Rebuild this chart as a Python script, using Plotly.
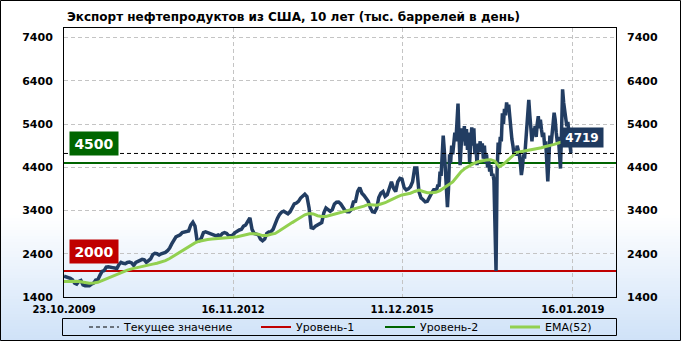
import plotly.graph_objects as go
import pandas as pd

# ---------------- data ----------------
title_text = "Экспорт нефтепродуктов из США, 10 лет (тыс. баррелей в день)"
start_date = "2009-10-23"
x_range = ["2009-10-23", "2019-10-29"]
y_range = [1400, 7620]

# biweekly export values 2009-10 .. 2016-08 (thousand barrels/day)
export_biweekly = [
    1880, 1870, 1860, 1830, 1800, 1720, 1700, 1760, 1780, 1680,
    1660, 1650, 1660, 1700, 1720, 1790, 1800, 1900, 1990, 2010,
    2090, 2100, 2100, 2080, 2070, 2060, 2150, 2200, 2180, 2170,
    2200, 2210, 2190, 2130, 2200, 2230, 2260, 2270, 2260, 2200,
    2240, 2280, 2380, 2410, 2400, 2370, 2400, 2410, 2430, 2470,
    2530, 2627, 2700, 2790, 2815, 2838, 2890, 2905, 2912, 2928,
    3065, 3130, 3040, 2700, 2700, 2760, 2890, 2905, 2890, 2870,
    2838, 2838, 2815, 2838, 2815, 2870, 2890, 2870, 2815, 2815,
    2838, 2890, 2928, 2950, 2965, 3040, 3065, 3170, 3232, 2965,
    2870, 2855, 2838, 2740, 2700, 2740, 2870, 2905, 2910, 2967,
    3120, 3217, 3309, 3362, 3384, 3346, 3325, 3370, 3460, 3551,
    3573, 3612, 3687, 3748, 3778, 3725, 3460, 3005, 2990, 3035,
    3066, 3082, 3120, 3346, 3460, 3422, 3384, 3422, 3551, 3590,
    3597, 3551, 3460, 3400, 3370, 3370, 3422, 3597, 3612, 3840,
    3930, 3800, 3748, 3672, 3612, 3460, 3370, 3360, 3450, 3700,
    3800, 3839, 3725, 3764, 3914, 4066, 3914, 3839, 4066, 4142,
    4127, 3930, 3878, 3900, 3950, 4066, 4384, 4384, 3839, 3690,
    3650, 3600, 3612, 3725, 3800, 3878, 3878,
]

# weekly export values from 2016-08 to the end
export_weekly = [
    3900, 4000, 3950, 4300, 4200, 4700, 5130, 4800, 4300, 4100,
    3480, 3900, 4700, 4500, 4900, 4700, 5000, 5200, 5000, 5700,
    5870, 5100, 4450, 4900, 5300, 5000, 5350, 4900, 5280, 4800,
    5200, 4520, 5000, 5320, 4900, 5300, 4700, 4900, 4450, 4950,
    4800, 5000, 4750, 4950, 4600, 4900, 4500, 4700, 4400, 4550,
    4300, 4450, 4200, 4250, 4100, 3200, 2000, 4300, 4970, 4700,
    5100, 5000, 5650, 5400, 5750, 5600, 5900, 5700, 5850, 5580,
    5200, 5050, 4900, 4700, 4800, 4670, 4900, 4820, 4700, 4500,
    4220, 4400, 4700, 4600, 4970, 5200, 5500, 5960, 5600, 5130,
    5000, 5300, 5150, 5355, 5100, 5400, 5580, 5300, 5500, 5280,
    5100, 5200, 4900, 5000, 4500, 4070, 4600, 5130, 4900, 5300,
    5400, 5660, 5500, 5200, 4980, 5100, 4700, 4370, 5200, 6200,
    5900, 5730, 5500, 5350, 5450, 5000, 4900, 4719,
]

# EMA(52) every 4 weeks
ema_values = [
    1760, 1765, 1770, 1765, 1755, 1740, 1720, 1725, 1740, 1780,
    1820, 1865, 1910, 1950, 1990, 2020, 2050, 2075, 2100, 2120,
    2140, 2160, 2180, 2210, 2240, 2290, 2350, 2410, 2470, 2530,
    2590, 2650, 2690, 2715, 2730, 2740, 2745, 2750, 2760, 2770,
    2780, 2795, 2820, 2845, 2860, 2860, 2850, 2820, 2820, 2850,
    2870, 2930, 3000, 3060, 3120, 3180, 3240, 3300, 3330, 3320,
    3280, 3260, 3260, 3285, 3310, 3340, 3370, 3395, 3420, 3440,
    3460, 3500, 3540, 3535, 3520, 3550, 3580, 3630, 3680, 3720,
    3760, 3780, 3800, 3840, 3870, 3840, 3810, 3810, 3820, 3860,
    3920, 3990, 4060, 4180, 4300, 4380, 4440, 4490, 4530, 4555,
    4570, 4575, 4540, 4410, 4470, 4560, 4660, 4740, 4760, 4775,
    4790, 4810, 4830, 4850, 4880, 4900, 4930, 4960, 4990,
]

level1 = 2000
level2 = 4500
current_value = 4719

x_tick_dates = ["2009-10-23", "2012-11-16", "2015-12-11", "2019-01-16"]
x_tick_labels = ["23.10.2009", "16.11.2012", "11.12.2015", "16.01.2019"]
y_ticks = [1400, 2400, 3400, 4400, 5400, 6400, 7400]

legend_names = ["Текущее значение", "Уровень-1", "Уровень-2", "EMA(52)"]

# ---------------- styling ----------------
W, H = 681, 341
PL, PR, PT, PB = 64, 616, 28, 297
PW, PH = PR - PL, PB - PT

NAVY = "#223d62"
EMA_C = "#92d050"
RED = "#c00000"
GREEN = "#006400"
GRID = "#c4c4c4"
FONT = "DejaVu Sans"


def px_x(px):
    return (px - PL) / PW


def px_y(py):
    return (PB - py) / PH


bi_dates = pd.date_range(start_date, periods=len(export_biweekly), freq="14D")
wk_dates = pd.date_range(bi_dates[-1] + pd.Timedelta(days=7),
                         periods=len(export_weekly), freq="7D")
export_dates = list(bi_dates) + list(wk_dates)
export_values = export_biweekly + export_weekly
ema_dates = pd.date_range(start_date, periods=len(ema_values), freq="28D")

fig = go.Figure()

fig.add_trace(go.Scatter(x=x_range, y=[level2, level2], mode="lines",
                         line=dict(color=GREEN, width=2), name=legend_names[2],
                         legend="legend3", hoverinfo="skip"))
fig.add_trace(go.Scatter(x=x_range, y=[level1, level1], mode="lines",
                         line=dict(color=RED, width=2), name=legend_names[1],
                         legend="legend2", hoverinfo="skip"))
fig.add_trace(go.Scatter(x=export_dates, y=export_values, mode="lines",
                         line=dict(color=NAVY, width=3.5), showlegend=False))
fig.add_trace(go.Scatter(x=ema_dates, y=ema_values, mode="lines",
                         line=dict(color=EMA_C, width=3), name=legend_names[3],
                         legend="legend4"))
fig.add_trace(go.Scatter(x=x_range, y=[current_value, current_value], mode="lines",
                         line=dict(color="black", width=1, dash="4px,3px"),
                         name=legend_names[0], legend="legend", hoverinfo="skip"))
fig.add_trace(go.Scatter(x=[x_range[0]], y=[y_ticks[0]], yaxis="y2", mode="markers",
                         marker=dict(opacity=0), showlegend=False, hoverinfo="skip"))

# background gradient (decoration)
shapes = []
g_top, g_bot = 215, H
n_bands = 42
c0 = (255, 255, 255)
c1 = (207, 226, 248)
for k in range(n_bands):
    y0 = g_top + (g_bot - g_top) * k / n_bands
    y1 = g_top + (g_bot - g_top) * (k + 1) / n_bands + 0.6
    t = (k + 0.5) / n_bands
    col = "rgb(%d,%d,%d)" % tuple(round(a + (b - a) * t) for a, b in zip(c0, c1))
    shapes.append(dict(type="rect", xref="paper", yref="paper", layer="below",
                       x0=px_x(-1), x1=px_x(W + 1), y0=px_y(y1), y1=px_y(y0),
                       fillcolor=col, line=dict(width=0)))
shapes.append(dict(type="rect", xref="paper", yref="paper", layer="above",
                   x0=px_x(0.5), x1=px_x(W - 0.5), y0=px_y(H - 0.5), y1=px_y(0.5),
                   line=dict(color="black", width=1)))
shapes.append(dict(type="rect", xref="paper", yref="paper", layer="above",
                   x0=px_x(62.5), x1=px_x(616.5), y0=px_y(335.5), y1=px_y(318.5),
                   line=dict(color="black", width=1)))

annotations = [
    dict(text="<b>4500</b>", xref="paper", yref="y", x=px_x(69), y=level2,
         xanchor="left", yanchor="bottom", yshift=7, showarrow=False,
         bgcolor="#006600", borderpad=2, width=44, height=19,
         font=dict(family=FONT, size=14, color="white")),
    dict(text="<b>2000</b>", xref="paper", yref="y", x=px_x(69), y=level1,
         xanchor="left", yanchor="bottom", yshift=7, showarrow=False,
         bgcolor=RED, borderpad=2, width=44, height=19,
         font=dict(family=FONT, size=14, color="white")),
    dict(text="<b>%d</b>" % current_value, xref="x", yref="y",
         x=export_dates[-1], y=current_value, xanchor="left", yanchor="bottom",
         xshift=-11, yshift=5, showarrow=False, bgcolor="#1f3a5f", borderpad=2,
         width=38, height=15, font=dict(family=FONT, size=12, color="white")),
]

legend_common = dict(orientation="h", yanchor="middle", y=px_y(327), xanchor="left",
                     bgcolor="rgba(0,0,0,0)", borderwidth=0,
                     font=dict(family=FONT, size=11, color="black"))
leg_starts = [84, 256, 380, 505]

fig.update_layout(
    width=W, height=H,
    margin=dict(l=PL, r=W - PR, t=PT, b=H - PB, pad=0, autoexpand=False),
    paper_bgcolor="white", plot_bgcolor="rgba(0,0,0,0)",
    title=dict(text="<b>" + title_text + "</b>", x=67 / W,
               xanchor="left", xref="container", y=1 - 17 / H, yanchor="middle",
               font=dict(family=FONT, size=12, color="black")),
    xaxis=dict(type="date", range=x_range, tickvals=x_tick_dates, ticktext=x_tick_labels,
               showgrid=True, gridcolor=GRID, griddash="4px,3px", gridwidth=1,
               showline=True, mirror=True, linecolor="black", linewidth=1,
               ticks="", ticklabelstandoff=3, zeroline=False,
               tickfont=dict(family=FONT, size=10, color="black", weight="bold")),
    yaxis=dict(range=y_range, tickvals=y_ticks, showgrid=True, gridcolor=GRID,
               griddash="4px,3px", gridwidth=1, showline=True, mirror=True,
               linecolor="black", linewidth=1, ticks="", zeroline=False,
               ticklabelstandoff=8,
               tickfont=dict(family=FONT, size=11, color="black", weight="bold")),
    yaxis2=dict(range=y_range, tickvals=y_ticks, overlaying="y", side="right",
                showgrid=False, showline=False, ticks="", zeroline=False,
                ticklabelstandoff=10,
                tickfont=dict(family=FONT, size=11, color="black", weight="bold")),
    legend=dict(legend_common, x=px_x(leg_starts[0])),
    legend2=dict(legend_common, x=px_x(leg_starts[1])),
    legend3=dict(legend_common, x=px_x(leg_starts[2])),
    legend4=dict(legend_common, x=px_x(leg_starts[3])),
    shapes=shapes,
    annotations=annotations,
    showlegend=True,
)

fig.write_html("out.html")
